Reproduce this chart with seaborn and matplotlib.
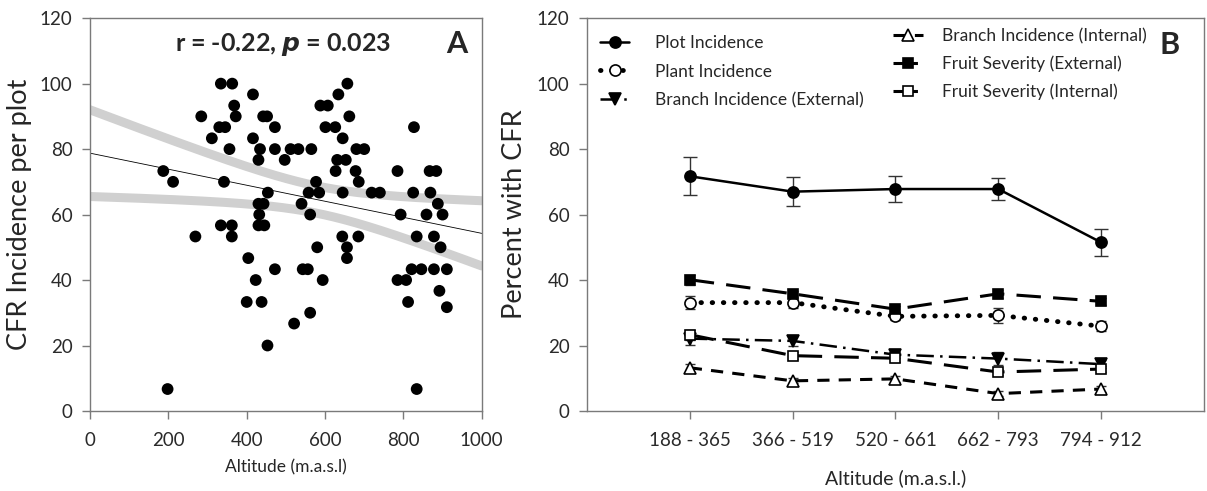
#!/usr/bin/env python3
"""CFR incidence vs altitude: per-plot scatter with regression (A) and class means (B)."""
import numpy as np
import pandas as pd
import matplotlib; matplotlib.use('Agg')
import matplotlib.pyplot as plt
from matplotlib.lines import Line2D
import seaborn as sns

# Panel A: altitude (m.a.s.l) and CFR incidence for each plot
altitude = [334, 363, 416, 368, 284, 372, 442, 452, 330, 345, 472, 311, 416, 356, 434,
            472, 512, 532, 565, 430, 497, 187, 212, 342, 454, 558, 585, 577, 430, 443,
            540, 432, 562, 334, 362, 430, 445, 269, 362, 580, 404, 472, 543, 556, 423,
            594, 400, 438, 562, 521, 453, 198,
            588, 607, 601, 626, 634, 657, 662, 645, 631, 653, 627, 678, 686, 680, 700,
            645, 719, 740, 644, 685, 656, 656, 785, 827, 825, 793, 834, 785, 807, 812,
            821, 846, 834, 867, 884, 869, 859, 888, 900, 878, 895, 878, 911, 892, 911]
incidence = [100, 100, 96.7, 93.3, 90, 90, 90, 90, 86.7, 86.7, 86.7, 83.3, 83.3, 80, 80,
             80, 80, 80, 80, 76.7, 76.7, 73.3, 70, 70, 66.7, 66.7, 66.7, 70, 63.3, 63.3,
             63.3, 60, 60, 56.7, 56.7, 56.7, 56.7, 53.3, 53.3, 50, 46.7, 43.3, 43.3, 43.3, 40,
             40, 33.3, 33.3, 30, 26.7, 20, 6.7,
             93.3, 93.3, 86.7, 86.7, 96.7, 100, 90, 83.3, 76.7, 76.7, 73.3, 73.3, 70, 80, 80,
             66.7, 66.7, 66.7, 53.3, 53.3, 50, 46.7, 73.3, 86.7, 66.7, 60, 53.3, 40, 40, 33.3,
             43.3, 43.3, 6.7, 73.3, 73.3, 66.7, 60, 63.3, 60, 53.3, 50, 43.3, 43.3, 36.7, 31.7]

# Panel B: means (and SE) per altitude class
alt_classes = ["188 - 365", "366 - 519", "520 - 661", "662 - 793", "794 - 912"]
plot_inc = [71.7, 67.0, 67.8, 67.8, 51.5]
plot_inc_se = [5.8, 4.4, 3.9, 3.3, 4.1]
plant_inc = [33.1, 33.1, 28.9, 29.2, 25.9]
plant_inc_se = [1.9, 1.5, 1.0, 2.2, 1.5]
branch_ext = [22.1, 21.4, 17.2, 16.0, 14.3]
branch_ext_se = [1.8, 1.5, 1.0, 2.1, 1.2]
branch_int = [13.2, 9.2, 9.8, 5.3, 6.7]
branch_int_se = [1.3, 0.8, 0.8, 0.8, 0.8]
fruit_ext = [40.1, 35.8, 31.1, 35.8, 33.5]
fruit_ext_se = [1.5, 1.0, 1.0, 1.2, 1.0]
fruit_int = [23.3, 16.9, 16.1, 11.9, 12.8]
fruit_int_se = [1.5, 1.0, 1.0, 1.0, 1.0]

FONT = ['Lato', 'DejaVu Sans']
GREY = '#7a7a7a'


def style_axes(ax):
    for s in ax.spines.values():
        s.set_color(GREY)
        s.set_linewidth(1.0)
    ax.tick_params(direction='out', length=5.5, width=1.0, color=GREY,
                   labelsize=13.5, labelcolor='#2a2a2a')
    ax.tick_params(axis='y', pad=7)
    ax.tick_params(axis='x', pad=10)


def main():
    sns.set_style("ticks")
    plt.rcParams['font.family'] = FONT

    fig = plt.figure(figsize=(12.07, 4.91), dpi=100)
    axA = fig.add_axes([0.0746, 0.163, 0.3245, 0.800])
    axB = fig.add_axes([0.4863, 0.163, 0.5112, 0.800])

    # ---- Panel A
    df = pd.DataFrame({"alt": altitude, "inc": incidence})
    n = len(df)
    slope, icpt = np.polyfit(df["alt"], df["inc"], 1)
    resid = df["inc"] - (icpt + slope * df["alt"])
    s = np.sqrt((resid ** 2).sum() / (n - 2))
    xm = df["alt"].mean()
    sxx = ((df["alt"] - xm) ** 2).sum()
    grid = np.linspace(0, 1000, 200)
    fit = icpt + slope * grid
    half = 1.985 * s * np.sqrt(1 / n + (grid - xm) ** 2 / sxx)

    sns.lineplot(x=grid, y=fit + half, ax=axA, color='#d0d0d0', lw=6.5, zorder=1,
                 solid_capstyle='round')
    sns.lineplot(x=grid, y=fit - half, ax=axA, color='#d0d0d0', lw=6.5, zorder=1,
                 solid_capstyle='round')
    sns.lineplot(x=grid, y=fit, ax=axA, color='black', lw=0.6, zorder=2)
    sns.scatterplot(data=df, x="alt", y="inc", ax=axA, color='black', s=72,
                    edgecolor='none', zorder=3)

    axA.set_xlim(0, 1000)
    axA.set_ylim(0, 120)
    axA.set_xticks(range(0, 1001, 200))
    axA.set_yticks(range(0, 121, 20))
    style_axes(axA)
    axA.set_xlabel("Altitude (m.a.s.l)", fontsize=12.5, labelpad=7)
    axA.set_ylabel("CFR Incidence per plot", fontsize=19.5, labelpad=6)
    axA.text(0.493, 0.934, r"r = -0.22, $\boldsymbol{p}$ = 0.023", transform=axA.transAxes,
             ha='center', va='center', fontsize=18, fontweight='bold')
    axA.text(0.937, 0.934, "A", transform=axA.transAxes, ha='center', va='center',
             fontsize=22, fontweight='bold')

    # ---- Panel B
    pos = [1, 2, 3, 4, 5]
    series = [
        ("Plot Incidence", plot_inc, plot_inc_se,
         dict(marker='o', ms=8, mfc='black', ls='-', lw=1.8), 5),
        ("Plant Incidence", plant_inc, plant_inc_se,
         dict(marker='o', ms=8, mfc='white', ls=(0, (0.1, 2.2)), lw=3.5,
              dash_capstyle='round'), 3.5),
        ("Branch Incidence (External)", branch_ext, branch_ext_se,
         dict(marker='v', ms=8, mfc='black', ls=(0, (7, 2.5, 1, 2.5)), lw=1.8), 3.5),
        ("Branch Incidence (Internal)", branch_int, branch_int_se,
         dict(marker='^', ms=8, mfc='white', ls=(0, (4, 3)), lw=2.2), 3.5),
        ("Fruit Severity (External)", fruit_ext, fruit_ext_se,
         dict(marker='s', ms=7, mfc='black', ls=(0, (8, 4)), lw=2.2), 3.5),
        ("Fruit Severity (Internal)", fruit_int, fruit_int_se,
         dict(marker='s', ms=7, mfc='white', ls=(0, (8, 4)), lw=2.2), 3.5),
    ]
    handles = []
    for label, vals, se, kw, cap in series:
        axB.errorbar(pos, vals, yerr=se, fmt='none', ecolor='#333333', elinewidth=1.0,
                     capsize=cap, zorder=2)
        sns.lineplot(x=pos, y=vals, ax=axB, color='black', mec='black', mew=1.2,
                     zorder=3, **kw)
        handles.append(Line2D([], [], color='black', mec='black', mew=1.2, label=label, **kw))

    axB.set_xlim(0, 6)
    axB.set_ylim(0, 120)
    axB.set_xticks(pos)
    axB.set_xticklabels(alt_classes)
    axB.set_yticks(range(0, 121, 20))
    style_axes(axB)
    axB.set_xlabel("Altitude (m.a.s.l.)", fontsize=14, labelpad=14)
    axB.set_ylabel("Percent with CFR", fontsize=19.5, labelpad=7)

    leg_kw = dict(frameon=False, fontsize=12.5, handlelength=1.7, numpoints=1,
                  borderaxespad=0, borderpad=0)
    leg1 = axB.legend(handles=handles[:3], loc='upper left', bbox_to_anchor=(0.021, 0.958),
                      labelspacing=0.74, handletextpad=1.45, **leg_kw)
    axB.add_artist(leg1)
    axB.legend(handles=handles[3:], loc='upper left', bbox_to_anchor=(0.496, 0.974),
               labelspacing=0.64, handletextpad=1.15, **leg_kw)
    axB.text(0.945, 0.931, "B", transform=axB.transAxes, ha='center', va='center',
             fontsize=22, fontweight='bold')

    fig.savefig("out.png", dpi=100)
    plt.close(fig)


if __name__ == "__main__":
    main()
